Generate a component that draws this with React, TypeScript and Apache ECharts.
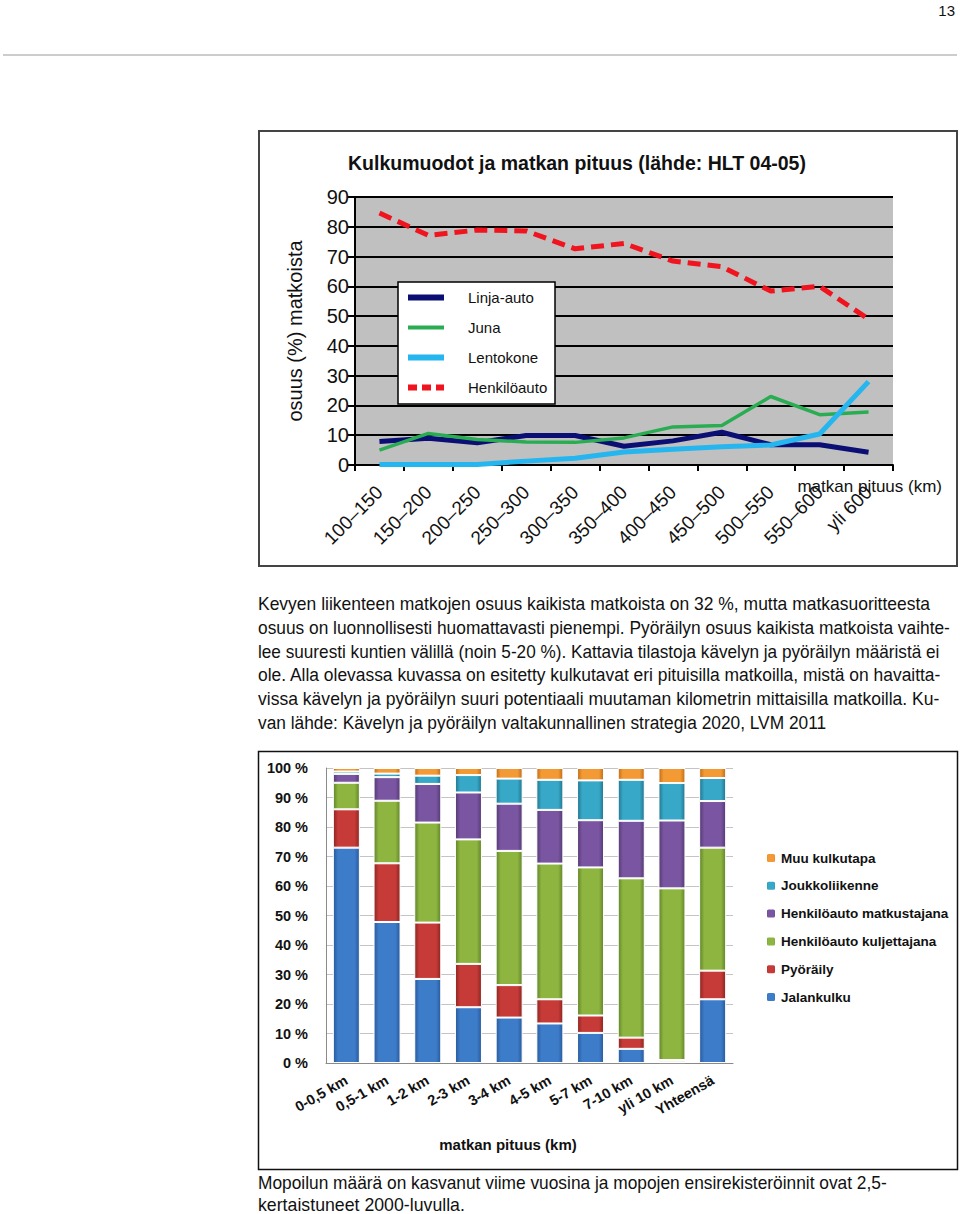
import React, { useEffect, useRef } from "react";
import * as echarts from "echarts";

// ---------- Top chart data ----------
const distanceCats = ["100–150", "150–200", "200–250", "250–300", "300–350", "350–400", "400–450", "450–500", "500–550", "550–600", "yli 600"];
const linjaAuto = [7.9, 9.0, 7.5, 9.9, 9.9, 6.3, 8.1, 11.0, 6.8, 6.8, 4.3];
const juna = [5.0, 10.6, 8.6, 7.7, 7.6, 9.1, 12.8, 13.3, 23.0, 16.9, 17.8];
const lentokone = [0.2, 0.2, 0.2, 1.3, 2.3, 4.4, 5.3, 6.1, 6.7, 10.4, 28.0];
const henkiloauto = [84.6, 77.1, 78.9, 78.6, 72.6, 74.4, 68.5, 66.6, 58.4, 60.0, 49.0];
const topYTicks = { min: 0, max: 90, interval: 10 };

// ---------- Bottom chart data ----------
const lengthCats = ["0-0,5 km", "0,5-1 km", "1-2 km", "2-3 km", "3-4 km", "4-5 km", "5-7 km", "7-10 km", "yli 10 km", "Yhteensä"];
const jalankulku = [73.0, 47.8, 28.5, 18.9, 15.4, 13.4, 10.2, 4.8, 0.3, 21.6];
const pyoraily = [13.0, 19.9, 19.1, 14.7, 11.0, 8.2, 5.9, 3.8, 0.7, 9.7];
const kuljettajana = [9.0, 21.2, 33.9, 42.2, 45.5, 46.0, 50.2, 54.0, 58.2, 41.7];
const matkustajana = [3.0, 8.0, 13.1, 15.9, 16.0, 18.2, 16.0, 19.5, 23.0, 15.8];
const joukkoliikenne = [0.8, 1.2, 2.8, 5.9, 8.5, 10.2, 13.5, 13.9, 12.7, 7.8];
const muu = [1.2, 1.9, 2.6, 2.4, 3.6, 4.0, 4.2, 4.0, 5.1, 3.4];

// ---------- Page text ----------
const paragraphLines = [
  "Kevyen liikenteen matkojen osuus kaikista matkoista on 32 %, mutta matkasuoritteesta",
  "osuus on luonnollisesti huomattavasti pienempi. Pyöräilyn osuus kaikista matkoista vaihte-",
  "lee suuresti kuntien välillä (noin 5-20 %). Kattavia tilastoja kävelyn ja pyöräilyn määristä ei",
  "ole. Alla olevassa kuvassa on esitetty kulkutavat eri pituisilla matkoilla, mistä on havaitta-",
  "vissa kävelyn ja pyöräilyn suuri potentiaali muutaman kilometrin mittaisilla matkoilla. Ku-",
  "van lähde: Kävelyn ja pyöräilyn valtakunnallinen strategia 2020, LVM 2011",
];
const bottomLines = [
  "Mopoilun määrä on kasvanut viime vuosina ja mopojen ensirekisteröinnit ovat 2,5-",
  "kertaistuneet 2000-luvulla.",
];
// layout: right edge of each text line in the page
const paragraphRight = [930, 950, 940, 942, 940, 826];
const bottomRight = [887, 465];

const SANS = "'Liberation Sans', Arial, sans-serif";
const BODY_FONT = "18px 'Liberation Sans', Arial, sans-serif";

function bevel(base: string, dark: string) {
  return new echarts.graphic.LinearGradient(0, 0, 1, 0, [
    { offset: 0, color: dark },
    { offset: 0.18, color: base },
    { offset: 0.82, color: base },
    { offset: 1, color: dark },
  ]);
}

function measure(text: string, font: string) {
  const c = document.createElement("canvas").getContext("2d");
  if (!c) return text.length * 8;
  c.font = font;
  return c.measureText(text).width;
}

export default function App() {
  const ref = useRef<HTMLDivElement>(null);
  useEffect(() => {
    if (!ref.current) return;
    const chart = echarts.init(ref.current, null, { renderer: "svg" });

    const barSeries = [
      { name: "Jalankulku", data: jalankulku, base: "#3d7cc9", dark: "#285a9c" },
      { name: "Pyöräily", data: pyoraily, base: "#c63b37", dark: "#8c2522" },
      { name: "Henkilöauto kuljettajana", data: kuljettajana, base: "#8db540", dark: "#62852a" },
      { name: "Henkilöauto matkustajana", data: matkustajana, base: "#7a55a1", dark: "#543a73" },
      { name: "Joukkoliikenne", data: joukkoliikenne, base: "#37a8c7", dark: "#22768f" },
      { name: "Muu kulkutapa", data: muu, base: "#f39a34", dark: "#c26d18" },
    ];

    const textLine = (t: string, y: number, right: number) => {
      const w = measure(t, BODY_FONT);
      const sx = Math.min(1.1, (right - 258) / w);
      return { type: "text", x: 258, y, scaleX: sx, style: { text: t, font: BODY_FONT, fill: "#111", verticalAlign: "top" } };
    };

    const graphic: any[] = [
      { type: "text", right: 5, top: 3, style: { text: "13", font: `15px ${SANS}`, fill: "#111" } },
      { type: "line", shape: { x1: 3, y1: 55, x2: 957, y2: 55 }, style: { stroke: "#9a9a9a", lineWidth: 1 } },
      { type: "rect", shape: { x: 259, y: 131, width: 698, height: 435 }, style: { fill: "none", stroke: "#444", lineWidth: 2 }, z: 10 },
      { type: "rect", shape: { x: 398, y: 282, width: 157, height: 122 }, style: { fill: "#fff", stroke: "#000", lineWidth: 1.5 }, z: 3 },
      { type: "rect", shape: { x: 258.5, y: 751.5, width: 699, height: 418 }, style: { fill: "none", stroke: "#111", lineWidth: 1.5 }, z: 10 },
      {
        type: "text",
        x: 942,
        y: 478,
        style: { text: "matkan pituus (km)", font: `17px ${SANS}`, fill: "#111", align: "right", verticalAlign: "top" },
      },
    ];
    paragraphLines.forEach((t, i) => graphic.push(textLine(t, 595 + i * 23.8, paragraphRight[i])));
    bottomLines.forEach((t, i) => graphic.push(textLine(t, 1174 + i * 22, bottomRight[i])));

    chart.setOption({
      animation: false,
      backgroundColor: "#fff",
      title: {
        text: "Kulkumuodot ja matkan pituus (lähde: HLT 04-05)",
        left: 348,
        top: 153,
        padding: 0,
        textStyle: { fontFamily: SANS, fontWeight: "bold", fontSize: 19.5, color: "#111" },
      },
      legend: [
        {
          orient: "vertical",
          left: 405,
          top: 290,
          itemWidth: 36,
          itemHeight: 14,
          itemGap: 15,
          padding: 0,
          z: 5,
          itemStyle: { opacity: 0 },
          data: [
            { name: "Linja-auto", lineStyle: { width: 6 } },
            { name: "Juna", lineStyle: { width: 4 } },
            { name: "Lentokone", lineStyle: { width: 6 } },
            { name: "Henkilöauto", lineStyle: { width: 6, type: [9, 5] } },
          ],
          textStyle: { fontFamily: SANS, fontSize: 15, color: "#111", padding: [0, 0, 0, 19] },
        },
        {
          orient: "vertical",
          left: 765,
          top: 850,
          itemWidth: 10,
          itemHeight: 10,
          itemGap: 11.8,
          padding: 0,
          data: ["Muu kulkutapa", "Joukkoliikenne", "Henkilöauto matkustajana", "Henkilöauto kuljettajana", "Pyöräily", "Jalankulku"],
          textStyle: { fontFamily: SANS, fontWeight: "bold", fontSize: 13.5, lineHeight: 16, color: "#111" },
        },
      ],
      grid: [
        { left: 355, top: 197, width: 538, height: 268, show: true, backgroundColor: "#c0c0c0", borderWidth: 0 },
        { left: 326, top: 768, width: 407, height: 295 },
      ],
      xAxis: [
        {
          gridIndex: 0,
          type: "category",
          data: distanceCats,
          boundaryGap: true,
          axisLine: { show: true, lineStyle: { color: "#000", width: 2 } },
          axisTick: { show: true, interval: 0, length: 6, lineStyle: { color: "#000", width: 2 } },
          axisLabel: { interval: 0, rotate: 45, margin: 24, fontFamily: SANS, fontSize: 19, color: "#111" },
          splitLine: { show: false },
        },
        {
          gridIndex: 1,
          type: "category",
          data: lengthCats,
          name: "matkan pituus (km)",
          nameLocation: "middle",
          nameGap: 74,
          nameTextStyle: { fontFamily: SANS, fontWeight: "bold", fontSize: 15, color: "#111", padding: [0, 43, 0, 0] },
          axisLine: { show: true, lineStyle: { color: "#8a8a8a", width: 1 } },
          axisTick: { show: false },
          axisLabel: { interval: 0, rotate: 30, margin: 16, fontFamily: SANS, fontWeight: "bold", fontSize: 14.5, color: "#111" },
        },
      ],
      yAxis: [
        {
          gridIndex: 0,
          type: "value",
          ...topYTicks,
          name: "osuus (%) matkoista",
          nameLocation: "middle",
          nameGap: 50,
          nameTextStyle: { fontFamily: SANS, fontSize: 20, color: "#111" },
          axisLine: { show: true, lineStyle: { color: "#000", width: 2 } },
          axisTick: { show: true, length: 7, lineStyle: { color: "#000", width: 2 } },
          axisLabel: { margin: 6, fontFamily: SANS, fontSize: 20, color: "#111" },
          splitLine: { show: true, lineStyle: { color: "#000", width: 2 } },
        },
        {
          gridIndex: 1,
          type: "value",
          min: 0,
          max: 100,
          interval: 10,
          axisLine: { show: true, lineStyle: { color: "#8a8a8a", width: 1 } },
          axisTick: { show: false },
          axisLabel: { margin: 18, formatter: "{value} %", fontFamily: SANS, fontWeight: "bold", fontSize: 14.5, color: "#111" },
          splitLine: { show: true, lineStyle: { color: "#c4c4c4", width: 1 } },
        },
      ],
      graphic,
      series: [
        { name: "Linja-auto", type: "line", xAxisIndex: 0, yAxisIndex: 0, data: linjaAuto, symbol: "none", color: "#0b0f73", lineStyle: { color: "#0b0f73", width: 5 }, z: 3 },
        { name: "Juna", type: "line", xAxisIndex: 0, yAxisIndex: 0, data: juna, symbol: "none", color: "#2aad52", lineStyle: { color: "#2aad52", width: 3.5 }, z: 3 },
        { name: "Lentokone", type: "line", xAxisIndex: 0, yAxisIndex: 0, data: lentokone, symbol: "none", color: "#25b6f0", lineStyle: { color: "#25b6f0", width: 5 }, z: 3 },
        { name: "Henkilöauto", type: "line", xAxisIndex: 0, yAxisIndex: 0, data: henkiloauto, symbol: "none", color: "#f0141e", lineStyle: { color: "#f0141e", width: 5, type: [13, 7] }, z: 3 },
        ...barSeries.map((s) => ({
          name: s.name,
          type: "bar",
          xAxisIndex: 1,
          yAxisIndex: 1,
          stack: "total",
          barWidth: 27,
          data: s.data,
          color: s.base,
          itemStyle: { color: bevel(s.base, s.dark), borderColor: "#ffffff", borderWidth: 1 },
        })),
      ],
    });

    return () => chart.dispose();
  }, []);

  return (
    <div
      ref={ref}
      style={{ position: "absolute", left: 0, top: 0, width: 960, height: 1214, background: "#fff" }}
    />
  );
}
